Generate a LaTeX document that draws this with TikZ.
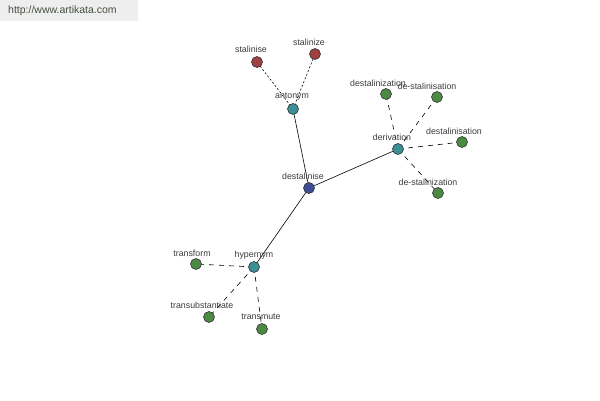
\documentclass[tikz,border=0pt]{standalone}
\usepackage{fontspec}
\setmainfont{Liberation Sans}
\usetikzlibrary{calc}
\definecolor{cbl}{RGB}{62,78,150}
\definecolor{cte}{RGB}{58,144,148}
\definecolor{cre}{RGB}{160,64,64}
\definecolor{cgr}{RGB}{76,138,68}
\definecolor{ctx}{RGB}{60,60,60}
\definecolor{cbg}{RGB}{238,238,238}
\definecolor{curl}{RGB}{70,80,60}
\begin{document}
\begin{tikzpicture}[x=1pt,y=-1pt,
  dot/.style={circle,draw=black!80,line width=0.6pt,minimum size=11pt,inner sep=0pt},
  cblue/.style={dot,fill=cbl},
  cteal/.style={dot,fill=cte},
  cred/.style={dot,fill=cre},
  cgreen/.style={dot,fill=cgr},
  lbl/.style={font=\fontsize{8.8}{10}\selectfont,text=ctx,inner sep=0pt},
  solidedge/.style={draw=black,line width=0.6pt},
  fine/.style={draw=black,line width=0.6pt,dash pattern=on 2pt off 2pt},
  coarse/.style={draw=black,line width=0.6pt,dash pattern=on 5pt off 5pt}]
\useasboundingbox (0,0) rectangle (600,400);
\fill[white] (0,0) rectangle (600,400);
\fill[cbg] (0,0) rectangle (138,21);
\node[anchor=west,inner sep=0pt,font=\fontsize{10.5}{12}\selectfont,text=curl] (url) at (8,11) {http://www.artikata.com};
% coordinates
\coordinate (pd) at (309,188);
\coordinate (pa) at (293,109);
\coordinate (ps1) at (257,62);
\coordinate (ps2) at (315,54);
\coordinate (pv) at (398,149);
\coordinate (pv1) at (386,94);
\coordinate (pv2) at (437,97);
\coordinate (pv3) at (462,142);
\coordinate (pv4) at (438,193);
\coordinate (ph) at (254,267);
\coordinate (ph1) at (196,264);
\coordinate (ph2) at (209,317);
\coordinate (ph3) at (262,329);
% edges
\draw[solidedge] (pd) -- (pa);
\draw[solidedge] (pd) -- (pv);
\draw[solidedge] (pd) -- (ph);
\draw[fine] (pa) -- (ps1);
\draw[fine] (pa) -- (ps2);
\draw[coarse] (pv) -- (pv1);
\draw[coarse] (pv) -- (pv2);
\draw[coarse] (pv) -- (pv3);
\draw[coarse] (pv) -- (pv4);
\draw[coarse] (ph) -- (ph1);
\draw[coarse] (ph) -- (ph2);
\draw[coarse] (ph) -- (ph3);
% nodes
\node[cblue] (d) at (pd) {};
\node[cteal] (a) at (pa) {};
\node[cred] (s1) at (ps1) {};
\node[cred] (s2) at (ps2) {};
\node[cteal] (v) at (pv) {};
\node[cgreen] (v1) at (pv1) {};
\node[cgreen] (v2) at (pv2) {};
\node[cgreen] (v3) at (pv3) {};
\node[cgreen] (v4) at (pv4) {};
\node[cteal] (h) at (ph) {};
\node[cgreen] (h1) at (ph1) {};
\node[cgreen] (h2) at (ph2) {};
\node[cgreen] (h3) at (ph3) {};
% labels
\node[lbl] (ld) at ($(pd)+(-6,-12)$) {destalinise};
\node[lbl] (la) at ($(pa)+(-1,-12)$) {antonym};
\node[lbl] (ls1) at ($(ps1)+(-6,-13)$) {stalinise};
\node[lbl] (ls2) at ($(ps2)+(-6,-12)$) {stalinize};
\node[lbl] (lv) at ($(pv)+(-6,-12)$) {derivation};
\node[lbl] (lv1) at ($(pv1)+(-8,-11)$) {destalinization};
\node[lbl] (lv2) at ($(pv2)+(-10,-11)$) {de-stalinisation};
\node[lbl] (lv3) at ($(pv3)+(-8,-11)$) {destalinisation};
\node[lbl] (lv4) at ($(pv4)+(-10,-11)$) {de-stalinization};
\node[lbl] (lh) at ($(ph)+(0,-12)$) {hypernym};
\node[lbl] (lh1) at ($(ph1)+(-4,-11)$) {transform};
\node[lbl] (lh2) at ($(ph2)+(-7,-12)$) {transubstantiate};
\node[lbl] (lh3) at ($(ph3)+(-1,-12)$) {transmute};
\end{tikzpicture}
\end{document}
